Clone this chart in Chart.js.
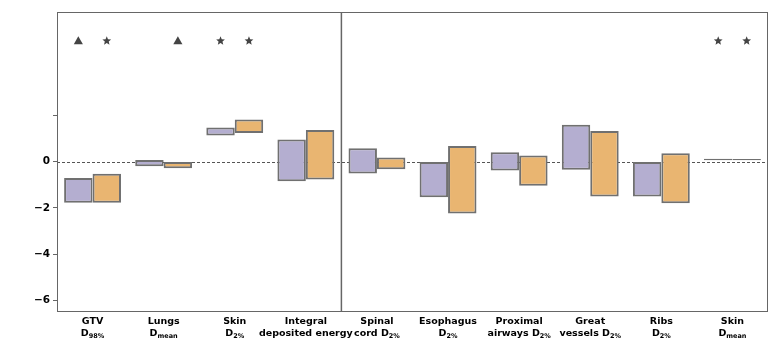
<!DOCTYPE html>
<html>
<head>
<meta charset="utf-8">
<script src="https://cdn.jsdelivr.net/npm/chart.js@4"></script>
<style>
  html, body { margin: 0; padding: 0; background: #fff; }
  #wrap { width: 776px; height: 344px; }
</style>
</head>
<body>
<div id="wrap"><canvas id="dose-diff" width="776" height="344"></canvas></div>
<script>
// category labels: first line, second line (main text + subscript)
var labelTop = ["GTV", "Lungs", "Skin", "Integral", "Spinal", "Esophagus", "Proximal", "Great", "Ribs", "Skin"];
var labelMain = ["D", "D", "D", "deposited energy", "cord D", "D", "airways D", "vessels D", "D", "D"];
var labelSub = ["98%", "mean", "2%", "", "2%", "2%", "2%", "2%", "2%", "mean"];

// min/max range per category for the two plans
var rangeA = [[-1.78, -0.71], [-0.2, 0.06], [1.12, 1.47], [-0.85, 0.95], [-0.52, 0.57],
              [-1.54, -0.02], [-0.39, 0.4], [-0.36, 1.59], [-1.51, 0], [0.05, 0.12]];
var rangeB = [[-1.78, -0.53], [-0.29, 0], [1.23, 1.81], [-0.78, 1.36], [-0.33, 0.17],
              [-2.24, 0.67], [-1.05, 0.26], [-1.51, 1.32], [-1.8, 0.36], [0.05, 0.11]];

// significance markers above each bar
var markA = ["triangle", null, "star", null, null, null, null, null, null, "star"];
var markB = ["star", "triangle", "star", null, null, null, null, null, null, "star"];
var markLevel = 5.2;

var yTicks = [-6, -4, -2, 0, 2];
var yLabelled = [-6, -4, -2, 0];

var fontFam = "'DejaVu Sans', sans-serif";

function drawStar(ctx, x, y, r) {
    ctx.beginPath();
    for (var i = 0; i < 10; i++) {
        var rad = i % 2 === 0 ? r : r * 0.45;
        var a = -Math.PI / 2 + i * Math.PI / 5;
        var px = x + rad * Math.cos(a), py = y + rad * Math.sin(a);
        if (i === 0) ctx.moveTo(px, py); else ctx.lineTo(px, py);
    }
    ctx.closePath();
    ctx.fill();
}

function drawTriangle(ctx, x, y, r) {
    ctx.beginPath();
    ctx.moveTo(x, y - r);
    ctx.lineTo(x + r * 0.95, y + r * 0.7);
    ctx.lineTo(x - r * 0.95, y + r * 0.7);
    ctx.closePath();
    ctx.fill();
}

var extras = {
    id: "extras",
    beforeDatasetsDraw: function (chart) {
        var ctx = chart.ctx, area = chart.chartArea, y = chart.scales.y;
        var y0 = y.getPixelForValue(0);
        ctx.save();
        ctx.strokeStyle = "#555";
        ctx.lineWidth = 1;
        ctx.setLineDash([3, 2]);
        ctx.beginPath();
        ctx.moveTo(area.left, Math.round(y0) + 0.5);
        ctx.lineTo(area.right, Math.round(y0) + 0.5);
        ctx.stroke();
        ctx.restore();
    },
    afterDatasetsDraw: function (chart) {
        var ctx = chart.ctx, area = chart.chartArea;
        var x = chart.scales.x, y = chart.scales.y;
        ctx.save();
        // frame
        ctx.strokeStyle = "#666";
        ctx.lineWidth = 1;
        ctx.strokeRect(Math.round(area.left) + 0.5, Math.round(area.top) + 0.5,
            Math.round(area.right - area.left) - 1, Math.round(area.bottom - area.top));
        // separator between target and organ metrics
        var sx = (x.getPixelForValue(3) + x.getPixelForValue(4)) / 2;
        ctx.lineWidth = 1.5;
        ctx.beginPath();
        ctx.moveTo(sx, area.top);
        ctx.lineTo(sx, area.bottom);
        ctx.stroke();

        // markers
        ctx.fillStyle = "#444";
        var my = y.getPixelForValue(markLevel);
        [markA, markB].forEach(function (marks, di) {
            var meta = chart.getDatasetMeta(di);
            marks.forEach(function (m, i) {
                if (!m) return;
                var bx = meta.data[i].x;
                if (m === "star") drawStar(ctx, bx, my, 4.6);
                else drawTriangle(ctx, bx, my, 4.8);
            });
        });

        // category labels with subscripts
        ctx.fillStyle = "#000";
        ctx.textBaseline = "alphabetic";
        var base1 = area.bottom + 13, base2 = area.bottom + 25;
        labelTop.forEach(function (t, i) {
            var cx = x.getPixelForValue(i);
            ctx.font = "bold 9.5px " + fontFam;
            ctx.textAlign = "center";
            ctx.fillText(t, cx, base1);
            var wMain = ctx.measureText(labelMain[i]).width;
            ctx.font = "bold 6.5px " + fontFam;
            var wSub = labelSub[i] ? ctx.measureText(labelSub[i]).width : 0;
            var start = cx - (wMain + wSub) / 2;
            ctx.textAlign = "left";
            ctx.font = "bold 9.5px " + fontFam;
            ctx.fillText(labelMain[i], start, base2);
            if (labelSub[i]) {
                ctx.font = "bold 6.5px " + fontFam;
                ctx.fillText(labelSub[i], start + wMain, base2 + 2);
            }
        });
        ctx.restore();
    }
};

var ctx = document.getElementById("dose-diff").getContext("2d");
var chart = new Chart(ctx, {
    type: "bar",
    data: {
        labels: labelTop,
        datasets: [
            {
                data: rangeA,
                backgroundColor: "#b4aed0",
                borderColor: "#707070",
                borderWidth: 2,
                borderSkipped: false
            },
            {
                data: rangeB,
                backgroundColor: "#e9b571",
                borderColor: "#707070",
                borderWidth: 2,
                borderSkipped: false
            }
        ]
    },
    options: {
        responsive: false,
        animation: false,
        events: [],
        layout: { padding: { top: 12, right: 8, left: 0, bottom: 0 } },
        datasets: { bar: { categoryPercentage: 0.8, barPercentage: 1.0 } },
        plugins: { legend: { display: false }, tooltip: { enabled: false } },
        scales: {
            x: {
                grid: { display: false },
                border: { display: false },
                ticks: { display: false },
                afterFit: function (s) { s.height = 33; }
            },
            y: {
                min: -6.45,
                max: 6.45,
                afterBuildTicks: function (s) {
                    s.ticks = yTicks.map(function (v) { return { value: v }; });
                },
                afterFit: function (s) { s.width = 57; },
                grid: { drawOnChartArea: false, drawTicks: true, tickLength: 4, color: "#666" },
                border: { display: false },
                ticks: {
                    color: "#000",
                    padding: 3,
                    font: { family: fontFam, size: 10.5, weight: "bold" },
                    callback: function (v) {
                        if (yLabelled.indexOf(v) < 0) return "";
                        return v < 0 ? "\u2212" + Math.abs(v) : String(v);
                    }
                }
            }
        }
    },
    plugins: [extras]
});
</script>
</body>
</html>
